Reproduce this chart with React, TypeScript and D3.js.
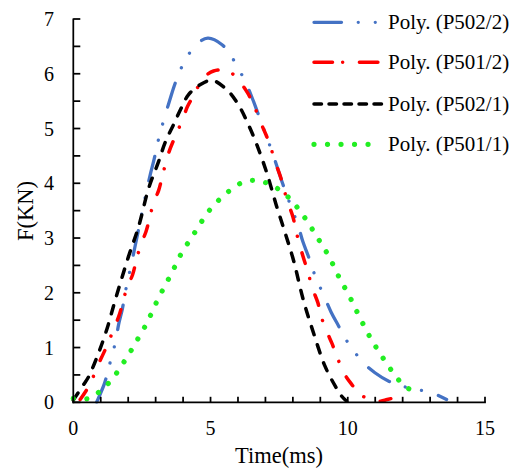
import React from "react";
import * as d3 from "d3";

type Pt = [number, number];

const xTicks = [0, 5, 10, 15];
const yTicks = [0, 1, 2, 3, 4, 5, 6, 7];

const seriesNames = ["Poly. (P502/2)", "Poly. (P501/2)", "Poly. (P502/1)", "Poly. (P501/1)"];

const p502_2: Pt[] = [
  [0.85, 0.0], [0.92, 0.08], [1.14, 0.35], [1.29, 0.63], [1.55, 1.13], [1.65, 1.42], [1.79, 1.71],
  [1.89, 2.0], [2.11, 2.51], [2.23, 2.8], [2.35, 3.09], [2.5, 3.46], [2.68, 3.88], [2.8, 4.15],
  [2.95, 4.45], [3.07, 4.73], [3.35, 5.25], [3.51, 5.51], [3.68, 5.78], [3.9, 6.07], [4.44, 6.51],
  [4.9, 6.65], [5.42, 6.53], [5.78, 6.3], [6.26, 5.86], [6.5, 5.58], [6.71, 5.3], [6.99, 4.92],
  [7.26, 4.55], [7.63, 3.99], [7.84, 3.7], [8.2, 3.21], [8.36, 2.94], [8.57, 2.66], [8.75, 2.39],
  [9.17, 1.9], [9.39, 1.65], [9.67, 1.39], [9.94, 1.14], [10.57, 0.72], [10.99, 0.54], [11.51, 0.38],
  [12.09, 0.28], [13.08, 0.17], [13.6, 0.05],
];

const p501_2: Pt[] = [
  [0.25, 0.05], [0.62, 0.34], [0.83, 0.6], [1.04, 0.83], [1.26, 1.07], [1.47, 1.34], [1.65, 1.56],
  [1.81, 1.83], [1.95, 2.09], [2.16, 2.33], [2.3, 2.6], [2.46, 2.88], [2.65, 3.12], [2.78, 3.36],
  [2.92, 3.64], [3.11, 3.87], [3.25, 4.14], [3.47, 4.55], [3.77, 4.92], [3.98, 5.16], [4.16, 5.4],
  [4.44, 5.65], [4.68, 5.89], [5.11, 6.05], [5.65, 6.05], [6.05, 5.86], [6.35, 5.65], [6.59, 5.41],
  [6.81, 5.13], [7.05, 4.85], [7.19, 4.66], [7.35, 4.4], [7.56, 4.1], [7.68, 3.89], [7.78, 3.7],
  [8.0, 3.39], [8.12, 3.12], [8.26, 2.85], [8.41, 2.6], [8.57, 2.34], [8.72, 2.07], [8.91, 1.82],
  [9.03, 1.57], [9.23, 1.3], [9.42, 1.08], [9.62, 0.82], [9.84, 0.55], [10.11, 0.35], [10.47, 0.14],
  [10.97, 0.02], [11.2, 0.02], [11.44, 0.05], [11.99, 0.12],
];

const p502_1: Pt[] = [
  [0.0, 0.04], [0.37, 0.32], [0.56, 0.47], [0.92, 0.9], [1.22, 1.33], [1.53, 1.87], [2.01, 2.66],
  [2.38, 3.21], [2.74, 3.9], [3.11, 4.4], [3.35, 4.75], [3.65, 5.07], [3.96, 5.4], [4.2, 5.62],
  [4.62, 5.8], [5.05, 5.88], [5.59, 5.71], [6.02, 5.43], [6.38, 5.07], [6.69, 4.7], [7.05, 4.19],
  [7.39, 3.61], [7.72, 3.09], [8.02, 2.6], [8.38, 1.87], [8.75, 1.27], [9.17, 0.66], [9.54, 0.3],
  [9.78, 0.11], [9.96, 0.02],
];

const p501_1: Pt[] = [
  [0.0, 0.07], [0.56, 0.07], [0.97, 0.2], [1.32, 0.37], [1.63, 0.57], [1.9, 0.78], [2.16, 0.99],
  [2.4, 1.2], [2.65, 1.42], [2.86, 1.64], [3.08, 1.88], [3.31, 2.1], [3.53, 2.31], [3.75, 2.53],
  [3.98, 2.76], [4.26, 2.97], [4.5, 3.16], [4.78, 3.38], [5.08, 3.58], [5.45, 3.76], [5.81, 3.91],
  [6.24, 4.03], [6.72, 4.05], [7.2, 3.97], [7.62, 3.84], [7.98, 3.67], [8.29, 3.47], [8.57, 3.27],
  [8.83, 3.06], [9.08, 2.86], [9.33, 2.65], [9.56, 2.41], [9.78, 2.19], [10.02, 1.98], [10.24, 1.75],
  [10.45, 1.54], [10.69, 1.3], [10.93, 1.09], [11.19, 0.88], [11.46, 0.68], [11.75, 0.47],
  [12.09, 0.29], [12.51, 0.17],
];

const seriesData = [p502_2, p501_2, p502_1, p501_1];

const styles = [
  { color: "#4472C4", width: 3.3, dash: "25 16.75 0.01 16.5 0.01 17.75", legendDash: "27.5 16.75 0.01 17 0.01 40" },
  { color: "#FF0000", width: 3.5, dash: "11 15.75 0.01 17.25", legendDash: "18.5 10.15 0.01 16.75" },
  { color: "#000000", width: 3.5, dash: "8.5 10.5", legendDash: "7.5 7.5" },
  { color: "#22EE22", width: 5.2, dash: "0.01 13.4", legendDash: "0.01 13.5" },
];

const W = 514;
const H = 475;
const FONT = "'Liberation Serif', 'Times New Roman', serif";

export default function App() {
  const x = d3.scaleLinear().domain([0, 15]).range([73.3, 485]);
  const y = d3.scaleLinear().domain([0, 7]).range([402.3, 19]);
  const line = d3
    .line<Pt>()
    .x((d) => x(d[0]))
    .y((d) => y(d[1]))
    .curve(d3.curveCatmullRom.alpha(0.5));

  const yMinor = d3.range(0, 7.01, 0.5);
  const xMinor = d3.range(0, 15.01, 1);
  const legendY = [22.3, 62.3, 104, 144.3];

  return (
    <svg
      width={W}
      height={H}
      style={{ position: "absolute", left: 0, top: 0, background: "#fff" }}
      fontFamily={FONT}
    >
      <rect x={0} y={0} width={W} height={H} fill="#fff" />
      <defs>
        <clipPath id="plotClip">
          <rect x={60} y={5} width={440} height={398.5} />
        </clipPath>
      </defs>

      {/* series */}
      <g clipPath="url(#plotClip)">
        {seriesData.map((data, i) => (
          <path
            key={i}
            d={line(data) || ""}
            fill="none"
            stroke={styles[i].color}
            strokeWidth={styles[i].width}
            strokeDasharray={styles[i].dash}
            strokeLinecap="round"
          />
        ))}
      </g>

      {/* axes */}
      <g stroke="#000" strokeWidth={1.75}>
        <line x1={x(0)} x2={x(0)} y1={y(7) - 0.5} y2={y(0) + 0.9} />
        <line x1={x(0) - 0.9} x2={x(15) + 0.9} y1={y(0)} y2={y(0)} />
        {yMinor.map((v) => (
          <line key={"yt" + v} x1={x(0)} x2={x(0) + 7} y1={y(v)} y2={y(v)} />
        ))}
        {xMinor.map((v) => (
          <line key={"xt" + v} x1={x(v)} x2={x(v)} y1={y(0)} y2={y(0) - 5.5} />
        ))}
      </g>

      {/* tick labels */}
      <g fontSize={20} fill="#000">
        {yTicks.map((v) => (
          <text key={"yl" + v} x={54} y={y(v) + 7} textAnchor="end">
            {v}
          </text>
        ))}
        {xTicks.map((v) => (
          <text key={"xl" + v} x={x(v)} y={435} textAnchor="middle">
            {v}
          </text>
        ))}
      </g>

      {/* axis titles */}
      <text x={279} y={463.3} textAnchor="middle" fontSize={22.5} fill="#000">
        Time(ms)
      </text>
      <text
        transform="translate(25,211) rotate(-90)"
        textAnchor="middle"
        dy="0.35em"
        fontSize={22.5}
        fill="#000"
      >
        F(KN)
      </text>

      {/* legend */}
      {seriesNames.map((name, i) => (
        <g key={"lg" + i}>
          <line
            x1={i === 3 ? 314 : 314}
            x2={i === 3 ? 369 : 382}
            y1={legendY[i]}
            y2={legendY[i]}
            stroke={styles[i].color}
            strokeWidth={styles[i].width}
            strokeDasharray={styles[i].legendDash}
            strokeLinecap="round"
          />
          <text x={388} y={legendY[i] + 7} fontSize={21} fill="#000">
            {name}
          </text>
        </g>
      ))}
    </svg>
  );
}
